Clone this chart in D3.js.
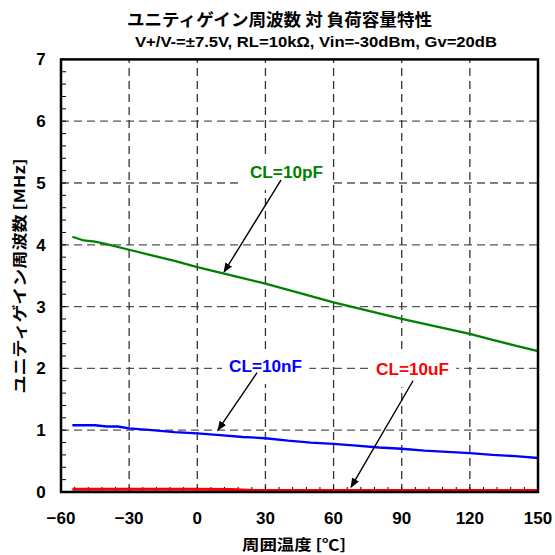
<!DOCTYPE html>
<html><head><meta charset="utf-8">
<script src="https://cdn.jsdelivr.net/npm/d3@7"></script>
<style>
body{margin:0;background:#fff;}
svg text{font-family:"Liberation Sans","Noto Sans CJK JP",sans-serif;font-weight:bold;}
</style></head><body>
<svg id="c" width="555" height="555"></svg>
<script>
const title = "ユニティゲイン周波数 対 負荷容量特性";
const subtitle = "V+/V-=±7.5V, RL=10kΩ, Vin=-30dBm, Gv=20dB";
const xLabel = "周囲温度 [℃]";
const yLabel = "ユニティゲイン周波数 [MHz]";
const xTicks = [-60,-30,0,30,60,90,120,150];
const yTicks = [0,1,2,3,4,5,6,7];

const tempPF = [-55,-50,-45,-40,-30,-20,-10,0,10,20,30,40,50,60,70,80,90,100,110,120,130,140,150];
const cl10pF = [4.13,4.07,4.05,4.01,3.92,3.83,3.74,3.64,3.55,3.46,3.37,3.27,3.17,3.07,2.98,2.89,2.80,2.72,2.64,2.56,2.46,2.37,2.28];
const tempNF = [-55,-50,-45,-40,-35,-30,-20,-10,0,10,20,30,40,50,60,70,80,90,100,110,120,130,140,150];
const cl10nF = [1.08,1.08,1.08,1.06,1.06,1.03,1.00,0.97,0.95,0.92,0.89,0.87,0.83,0.80,0.78,0.75,0.72,0.70,0.67,0.65,0.63,0.60,0.58,0.55];
const tempUF = [-55,-30,0,15,25,60,90,120,150];
const cl10uF = [0.045,0.045,0.045,0.04,0.025,0.025,0.025,0.025,0.025];

// annotation text (temperature, value) and arrow start/end
const labelText  = ["CL=10pF","CL=10nF","CL=10uF"];
const labelColor = ["#008000","#0000ff","#ff0000"];
const labelT     = [23.2, 14.0, 78.7];
const labelV     = [5.08, 1.94, 1.89];
const arrowT0    = [36.9, 26.3, 95.0];
const arrowV0    = [5.05, 1.93, 1.80];
const arrowT1    = [11.8, 9.1, 67.7];
const arrowV1    = [3.56, 1.00, 0.08];

const svg = d3.select("#c");
const m = {l:61, r:538, t:59.4, b:492};
const x = d3.scaleLinear().domain([-60,150]).range([m.l,m.r]);
const y = d3.scaleLinear().domain([0,7]).range([m.b,m.t]);

svg.append("text").attr("x",127).attr("y",26)
  .style("font-family","'Noto Sans CJK JP',sans-serif").attr("font-size",17)
  .attr("textLength",305).attr("lengthAdjust","spacingAndGlyphs").text(title);
svg.append("text").attr("x",135).attr("y",47)
  .attr("font-size",14).attr("textLength",362).attr("lengthAdjust","spacingAndGlyphs").text(subtitle);

// grid
const g = svg.append("g");
g.selectAll("line.h").data(yTicks.slice(1,-1)).join("line")
  .attr("x1",m.l).attr("x2",m.r).attr("y1",d=>y(d)).attr("y2",d=>y(d))
  .attr("stroke","#555").attr("stroke-width",1.3).attr("stroke-dasharray","8,5");
g.selectAll("line.v").data(xTicks.slice(1,-1)).join("line")
  .attr("y1",m.b).attr("y2",m.t).attr("x1",d=>x(d)).attr("x2",d=>x(d))
  .attr("stroke","#333").attr("stroke-width",1.3).attr("stroke-dasharray","8,5");

// label boxes (white background)
const lg = svg.append("g");
labelText.forEach((txt,i)=>{
  const t = lg.append("text").attr("x",x(labelT[i])).attr("y",y(labelV[i]))
    .attr("fill",labelColor[i]).attr("font-size",16)
    .attr("textLength",73).attr("lengthAdjust","spacingAndGlyphs").text(txt);
  const bb = t.node().getBBox();
  lg.insert("rect","text").attr("x",bb.x-7).attr("y",bb.y-9).attr("width",bb.width+14).attr("height",bb.height+18).attr("fill","#fff");
});

// minor ticks
const yMinor = d3.range(0,7.001,0.2);
svg.append("g").selectAll("line").data(yMinor).join("line")
  .attr("x1",m.l).attr("x2",m.l+5).attr("y1",d=>y(d)).attr("y2",d=>y(d))
  .attr("stroke","#000").attr("stroke-width",1);
const xMinor = d3.range(-60,150.001,6);
svg.append("g").selectAll("line").data(xMinor).join("line")
  .attr("y1",m.b).attr("y2",m.b-5).attr("x1",d=>x(d)).attr("x2",d=>x(d))
  .attr("stroke","#000").attr("stroke-width",1);

// lines
const line = (xs,ys)=>d3.line().x((d,i)=>x(xs[i])).y(d=>y(d))(ys);
svg.append("path").attr("d",line(tempPF,cl10pF)).attr("fill","none").attr("stroke","#008000").attr("stroke-width",2.3);
svg.append("path").attr("d",line(tempNF,cl10nF)).attr("fill","none").attr("stroke","#0000ff").attr("stroke-width",2.3);
svg.append("path").attr("d",line(tempUF,cl10uF)).attr("fill","none").attr("stroke","#ff0000").attr("stroke-width",3);

// arrows
svg.append("defs").append("marker").attr("id","ah").attr("viewBox","0 0 10 10")
  .attr("refX",9).attr("refY",5).attr("markerWidth",7).attr("markerHeight",7).attr("orient","auto")
  .append("path").attr("d","M0,1 L10,5 L0,9 Z").attr("fill","#000");
labelText.forEach((txt,i)=>{
  svg.append("line").attr("x1",x(arrowT0[i])).attr("y1",y(arrowV0[i]))
    .attr("x2",x(arrowT1[i])).attr("y2",y(arrowV1[i]))
    .attr("stroke","#000").attr("stroke-width",1.4).attr("marker-end","url(#ah)");
});

// frame
svg.append("rect").attr("x",m.l).attr("y",m.t).attr("width",m.r-m.l).attr("height",m.b-m.t)
  .attr("fill","none").attr("stroke","#000").attr("stroke-width",2.5);

// tick labels
svg.append("g").selectAll("text").data(yTicks).join("text")
  .attr("x",41).attr("y",d=>y(d)+6).attr("text-anchor","middle").attr("font-size",17).text(d=>d);
svg.append("g").selectAll("text").data(xTicks).join("text")
  .attr("x",d=>x(d)).attr("y",524).attr("text-anchor","middle").attr("font-size",17)
  .text(d=>d<0?"\u2212"+Math.abs(d):d);

svg.append("text").attr("x",294).attr("y",550).attr("text-anchor","middle")
  .style("font-family","'Noto Sans CJK JP',sans-serif").attr("font-size",15)
  .attr("textLength",104).attr("lengthAdjust","spacingAndGlyphs").text(xLabel);
svg.append("text").attr("transform","translate(25,276) rotate(-90)").attr("text-anchor","middle")
  .style("font-family","'Noto Sans CJK JP',sans-serif").attr("font-size",15)
  .attr("textLength",235).attr("lengthAdjust","spacingAndGlyphs").text(yLabel);
</script></body></html>
